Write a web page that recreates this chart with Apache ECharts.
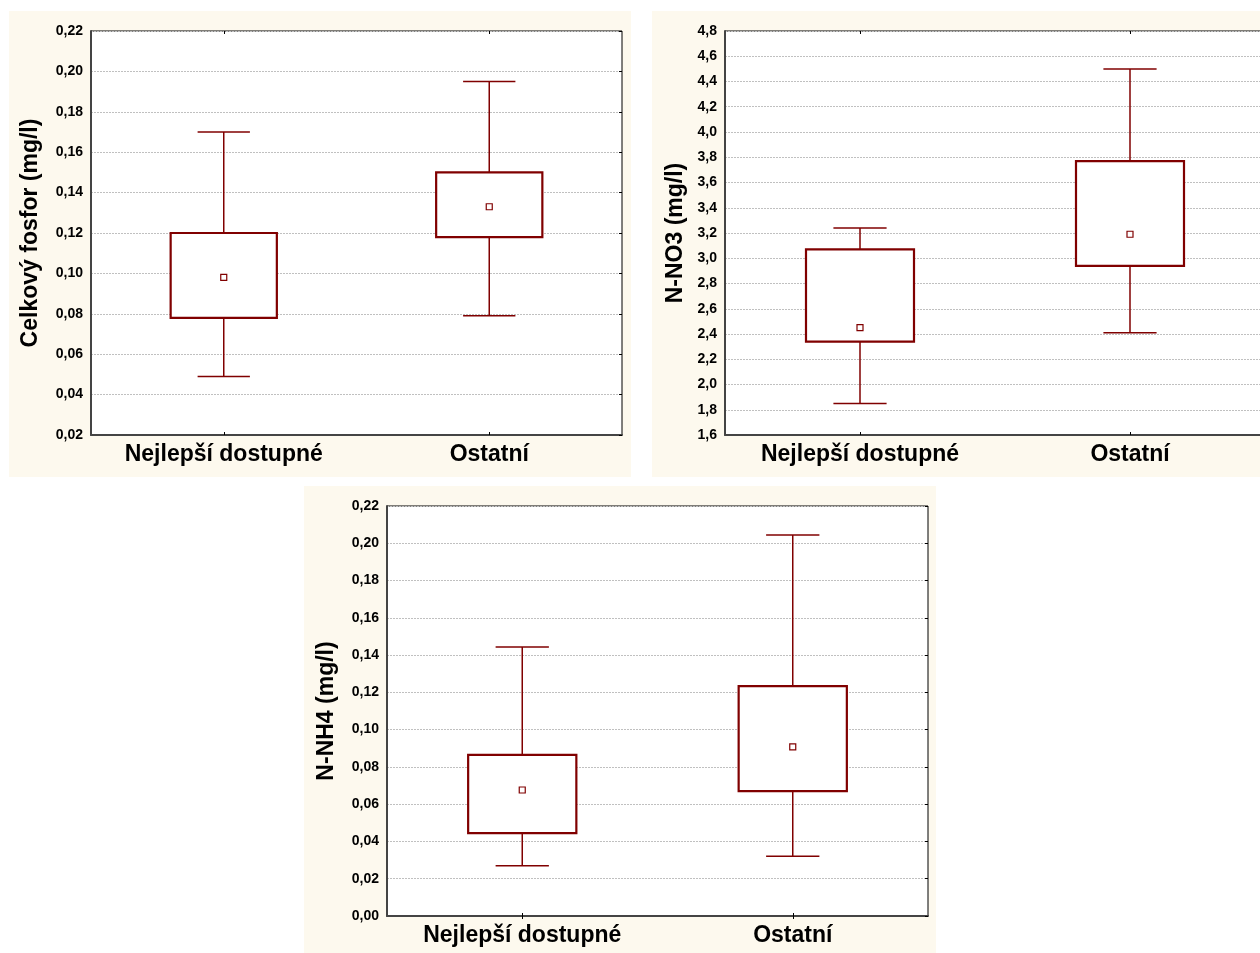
<!DOCTYPE html>
<html>
<head>
<meta charset="utf-8">
<script src="https://cdn.jsdelivr.net/npm/echarts@6/dist/echarts.min.js"></script>
<style>
html,body{margin:0;padding:0;background:#fff;overflow:hidden;width:1260px;height:953px;}
#c{width:1290px;height:953px;}
</style>
</head>
<body>
<div id="c"></div>
<script>
const categories = ['Nejlepší dostupné', 'Ostatní'];

// Celkový fosfor
const pWhiskerLow  = [0.049, 0.079];
const pBoxLow      = [0.078, 0.118];
const pMean        = [0.098, 0.133];
const pBoxHigh     = [0.120, 0.150];
const pWhiskerHigh = [0.170, 0.195];

// N-NO3
const no3WhiskerLow  = [1.85, 2.41];
const no3BoxLow      = [2.34, 2.94];
const no3Mean        = [2.45, 3.19];
const no3BoxHigh     = [3.07, 3.77];
const no3WhiskerHigh = [3.24, 4.50];

// N-NH4
const nh4WhiskerLow  = [0.027, 0.032];
const nh4BoxLow      = [0.0445, 0.067];
const nh4Mean        = [0.0676, 0.0907];
const nh4BoxHigh     = [0.0865, 0.1234];
const nh4WhiskerHigh = [0.1443, 0.2044];

const panels = [
  {name:'Celkový fosfor (mg/l)', min:0.02, max:0.22, interval:0.02, dec:2, nameGap:49,
   wl:pWhiskerLow, bl:pBoxLow, mean:pMean, bh:pBoxHigh, wh:pWhiskerHigh,
   grid:{left:91, top:31, width:531, height:404}},
  {name:'N-NO3 (mg/l)', min:1.6, max:4.8, interval:0.2, dec:1, nameGap:38,
   wl:no3WhiskerLow, bl:no3BoxLow, mean:no3Mean, bh:no3BoxHigh, wh:no3WhiskerHigh,
   grid:{left:725, top:31, width:540, height:404}},
  {name:'N-NH4 (mg/l)', min:0, max:0.22, interval:0.02, dec:2, nameGap:49,
   wl:nh4WhiskerLow, bl:nh4BoxLow, mean:nh4Mean, bh:nh4BoxHigh, wh:nh4WhiskerHigh,
   grid:{left:387, top:506, width:541, height:410}}
];

const RED = '#800000';
const FONT = '"Liberation Sans", Arial, sans-serif';

function renderItem(params, api) {
  const c = api.value(0);
  const x = api.coord([c, 0])[0];
  const yWl = api.coord([c, api.value(1)])[1];
  const yBl = api.coord([c, api.value(2)])[1];
  const yBh = api.coord([c, api.value(3)])[1];
  const yWh = api.coord([c, api.value(4)])[1];
  const band = api.size([1, 0])[0];
  const bw = band * 0.4;
  const cw = band * 0.197;
  const ls = {stroke: RED, lineWidth: 1.5};
  return {
    type: 'group',
    children: [
      {type:'line', shape:{x1:x, y1:yBh, x2:x, y2:yWh}, style:ls},
      {type:'line', shape:{x1:x, y1:yBl, x2:x, y2:yWl}, style:ls},
      {type:'line', shape:{x1:x-cw/2, y1:yWh, x2:x+cw/2, y2:yWh}, style:ls},
      {type:'line', shape:{x1:x-cw/2, y1:yWl, x2:x+cw/2, y2:yWl}, style:ls},
      {type:'rect', shape:{x:x-bw/2, y:yBh, width:bw, height:yBl-yBh},
       style:{fill:'#fff', stroke:RED, lineWidth:2.2}}
    ]
  };
}

const grids = [], xAxes = [], yAxes = [], series = [];
panels.forEach((p, i) => {
  grids.push(Object.assign({show:true, backgroundColor:'#fff', borderColor:'#000', borderWidth:1}, p.grid));
  xAxes.push({
    type:'category', gridIndex:i, data:categories, position:'bottom',
    axisLine:{show:true, lineStyle:{color:'#444', width:2}},
    axisTick:{show:true, inside:true, alignWithLabel:true, length:3, lineStyle:{color:'#000'}},
    axisLabel:{color:'#000', fontFamily:FONT, fontWeight:'bold', fontSize:23, margin:8},
    splitLine:{show:false}
  });
  xAxes.push({
    type:'category', gridIndex:i, data:categories, position:'top',
    axisLine:{show:false},
    axisTick:{show:true, inside:true, alignWithLabel:true, length:3, lineStyle:{color:'#000'}},
    axisLabel:{show:false}, splitLine:{show:false}
  });
  yAxes.push({
    type:'value', gridIndex:i, min:p.min, max:p.max, interval:p.interval, position:'left',
    name:p.name, nameLocation:'middle', nameGap:p.nameGap, nameRotate:90,
    nameTextStyle:{color:'#000', fontFamily:FONT, fontWeight:'bold', fontSize:23},
    axisLine:{show:true, lineStyle:{color:'#444', width:2}},
    axisTick:{show:false},
    axisLabel:{color:'#000', fontFamily:FONT, fontWeight:'bold', fontSize:14, margin:8,
      formatter: v => v.toFixed(p.dec).replace('.', ',')},
    splitLine:{show:true, lineStyle:{color:'#c0c0c0', type:[2,1], width:1}}
  });
  yAxes.push({
    type:'value', gridIndex:i, min:p.min, max:p.max, interval:p.interval, position:'right',
    axisLine:{show:false},
    axisTick:{show:true, inside:true, length:3, lineStyle:{color:'#000'}},
    axisLabel:{show:false}, splitLine:{show:false}
  });
  series.push({
    type:'custom', xAxisIndex:2*i, yAxisIndex:2*i, renderItem:renderItem,
    encode:{x:0, y:[1,2,3,4]},
    data: categories.map((_, k) => [k, p.wl[k], p.bl[k], p.bh[k], p.wh[k]]),
    z:3
  });
  series.push({
    type:'scatter', xAxisIndex:2*i, yAxisIndex:2*i, symbol:'rect', symbolSize:6,
    itemStyle:{color:'#fff', borderColor:RED, borderWidth:1.2, opacity:1},
    data: categories.map((_, k) => [k, p.mean[k]]),
    z:5
  });
});

const chart = echarts.init(document.getElementById('c'), null, {renderer:'canvas'});
chart.setOption({
  backgroundColor:'#fff',
  animation:false,
  graphic:[
    {type:'rect', shape:{x:9, y:11, width:622, height:466}, style:{fill:'#fdf9ee'}, z:-10, silent:true},
    {type:'rect', shape:{x:652, y:11, width:640, height:466}, style:{fill:'#fdf9ee'}, z:-10, silent:true},
    {type:'rect', shape:{x:304, y:486, width:632, height:470}, style:{fill:'#fdf9ee'}, z:-10, silent:true}
  ],
  grid:grids, xAxis:xAxes, yAxis:yAxes, series:series
});
</script>
</body>
</html>
